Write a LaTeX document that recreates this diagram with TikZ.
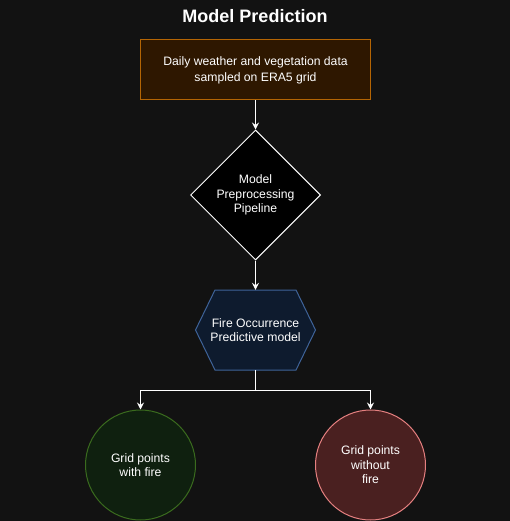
\documentclass[tikz,border=0pt]{standalone}
\usepackage{fontspec}
\setmainfont{Liberation Sans}
\usetikzlibrary{shapes.geometric,arrows.meta}
\definecolor{bgc}{HTML}{121212}
\definecolor{rectfill}{HTML}{2E1700}
\definecolor{rectdraw}{HTML}{B46504}
\definecolor{hexfill}{HTML}{0E1B2E}
\definecolor{hexdraw}{HTML}{3F6399}
\definecolor{gfill}{HTML}{0F200F}
\definecolor{gdraw}{HTML}{3A6B1E}
\definecolor{rfill}{HTML}{4A2020}
\definecolor{rdraw}{HTML}{E58080}
\tikzset{
  txt/.style={text=white, font=\fontsize{12.2}{14.5}\selectfont, align=center, inner sep=0pt},
  conn/.style={draw=white, line width=1pt, -{Stealth[length=7pt,width=7pt,inset=2.5pt]}},
  plain/.style={draw=white, line width=1pt}
}
\begin{document}
\begin{tikzpicture}[x=1pt,y=-1pt]
\fill[bgc] (0,0) rectangle (510,521);
\useasboundingbox (0,0) rectangle (510,521);
\node[text=white, font=\bfseries\fontsize{18}{21}\selectfont] (title) at (255,16) {Model Prediction};
\node[txt, fill=rectfill, draw=rectdraw, line width=1pt, minimum width=230, minimum height=60] (data) at (255.5,70) {Daily weather and vegetation data\\[1.5pt]sampled on ERA5 grid};
\node[txt, diamond, fill=black, draw=white, line width=1pt, minimum width=130, minimum height=130] (pipe) at (255.5,195) {Model\\Preprocessing\\Pipeline};
\node[txt, minimum width=121, minimum height=80] (hex) at (255.5,330) {Fire Occurrence\\Predictive model};
\draw[fill=hexfill, draw=hexdraw, line width=1pt] (215,290) -- (296,290) -- (315.5,330) -- (296,370) -- (215,370) -- (195.5,330) -- cycle;
\node[txt] at (hex) {Fire Occurrence\\Predictive model};
\node[txt, circle, fill=gfill, draw=gdraw, line width=1pt, minimum size=110] (fire) at (140.5,465) {Grid points\\with fire};
\node[txt, circle, fill=rfill, draw=rdraw, line width=1pt, minimum size=110] (nofire) at (370.5,465) {Grid points\\without\\fire};
\coordinate (split) at (255.5,390);
\draw[conn] (data.south) -- (pipe.north);
\draw[conn] (pipe.south) -- (hex.north);
\draw[plain] (hex.south) -- (split);
\draw[conn] (split) -| (fire.north);
\draw[conn] (split) -| (nofire.north);
\end{tikzpicture}
\end{document}
